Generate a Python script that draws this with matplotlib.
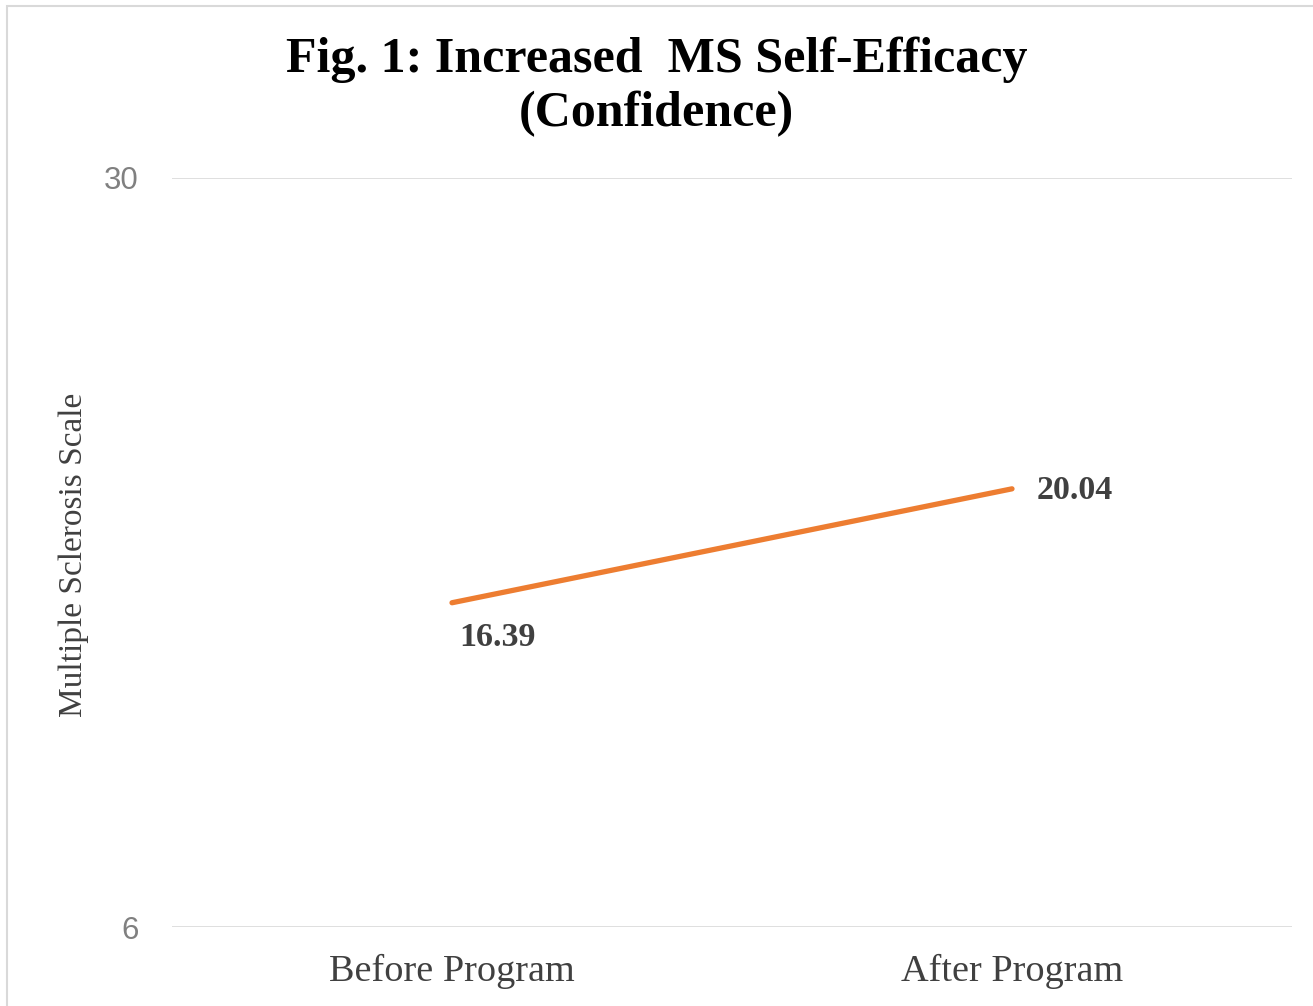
import matplotlib.pyplot as plt
from matplotlib.patches import Rectangle

# survey results
categories = ['Before Program', 'After Program']
scores = [16.39, 20.04]
y_ticks = [6, 30]

serif = ['Liberation Serif', 'DejaVu Serif']
sans = ['Liberation Sans', 'DejaVu Sans']

fig = plt.figure(figsize=(13.13, 10.06), dpi=100)
ax = fig.add_axes([0.131, 0.0785, 0.853, 0.7446])

x = range(len(categories))
ax.plot(x, scores, color='#ED7D31', linewidth=3.8, solid_capstyle='round')

# value labels
ax.annotate(f'{scores[0]:.2f}', (0, scores[0]), xytext=(5, -25), textcoords='offset points',
            ha='left', va='center', fontsize=24.5, fontweight='bold', color='#404040', family=serif)
ax.annotate(f'{scores[1]:.2f}', (1, scores[1]), xytext=(18, -1.5), textcoords='offset points',
            ha='left', va='center', fontsize=24.5, fontweight='bold', color='#404040', family=serif)

ax.set_xlim(-0.5, 1.5)
ax.set_ylim(y_ticks[0], y_ticks[-1])
ax.set_yticks(y_ticks)
ax.set_xticks(list(x))
ax.set_xticklabels(categories, family=serif, fontsize=27.5, color='#404040')
for lbl in ax.get_yticklabels():
    lbl.set_family(sans)
    lbl.set_fontsize(22.5)
    lbl.set_color('#808080')
ax.tick_params(length=0, pad=24)
ax.tick_params(axis='x', pad=19)
ax.grid(axis='y', color='#D9D9D9', linewidth=1.2)
ax.set_axisbelow(True)
for s in ax.spines.values():
    s.set_visible(False)

ax.set_ylabel('Multiple Sclerosis Scale', family=serif, fontsize=24, color='#404040')
ax.yaxis.set_label_coords(-0.074, 0.497)

fig.text(0.5, 1 - 87 / 1006, 'Fig. 1: Increased  MS Self-Efficacy\n(Confidence)', family=serif,
         fontsize=36, fontweight='bold', ha='center', va='center', linespacing=1.24)

# light frame round the chart
fig.patches.append(Rectangle((7 / 1313, -0.01), 1.1, 1 - 6 / 1006 + 0.01, transform=fig.transFigure,
                             fill=False, edgecolor='#D9D9D9', linewidth=1.5))

fig.savefig('out.png', dpi=100)
